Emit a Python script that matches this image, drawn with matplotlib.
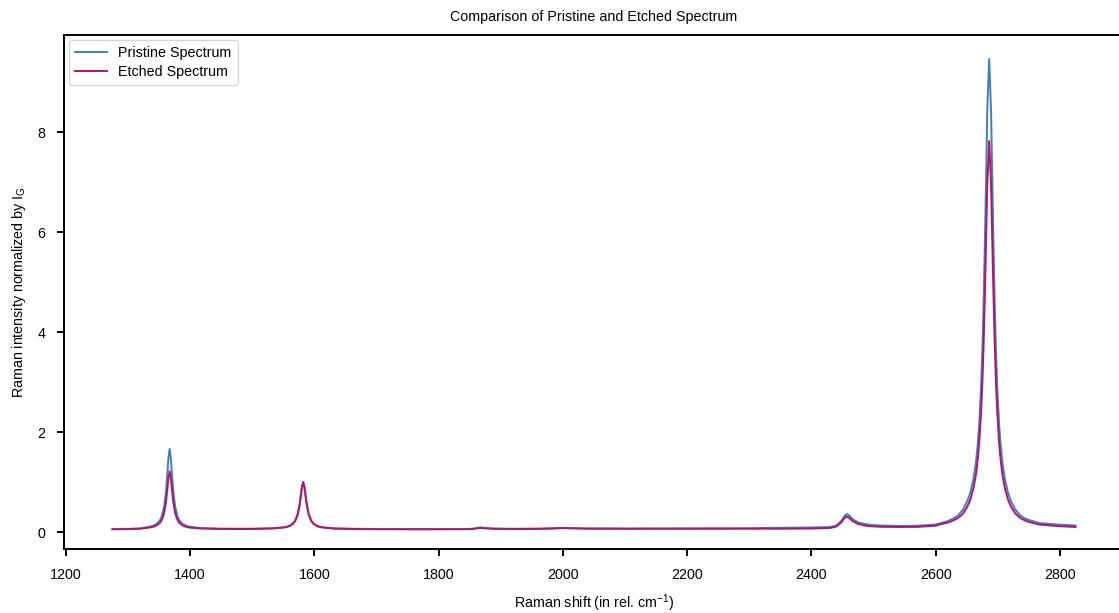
import matplotlib
matplotlib.use("Agg")
import matplotlib.pyplot as plt

plt.rcParams['font.family'] = ['Liberation Sans', 'DejaVu Sans']
plt.rcParams['mathtext.fontset'] = 'custom'
plt.rcParams['mathtext.rm'] = 'Liberation Sans'
plt.rcParams['mathtext.it'] = 'Liberation Sans'

title = "Comparison of Pristine and Etched Spectrum"
x_label = r"Raman shift (in rel. cm$^{-1}$)"
y_label = r"Raman intensity normalized by I$_\mathrm{G}$"
series_names = ["Pristine Spectrum", "Etched Spectrum"]

raman_shift = [
    1275, 1300, 1320, 1335, 1341, 1347, 1351, 1354, 1358, 1361, 1363, 1365,
    1367, 1369, 1371, 1373, 1376, 1380, 1383, 1387, 1393, 1399, 1417, 1447,
    1470, 1500, 1532, 1552, 1557, 1562, 1566, 1569, 1573, 1576, 1578, 1580,
    1582, 1584, 1586, 1588, 1591, 1595, 1598, 1602, 1607, 1612, 1632, 1662,
    1700, 1750, 1800, 1840, 1855, 1863, 1868, 1875, 1890, 1920,
    1960, 1985, 2000, 2015, 2040, 2100, 2200, 2300, 2350, 2400,
    2430, 2440, 2448, 2453, 2457, 2461, 2466, 2475, 2490, 2510,
    2540, 2570,
    2600, 2606, 2620, 2628, 2636, 2644, 2651, 2656, 2661, 2665,
    2668, 2670, 2673, 2675, 2677, 2680, 2683, 2686, 2689, 2692,
    2695, 2697, 2699, 2702, 2704, 2707, 2711, 2716, 2721, 2728,
    2736, 2744, 2750, 2766, 2795, 2825,
]

pristine = [
    0.060, 0.063, 0.072, 0.106, 0.129, 0.172, 0.229, 0.300, 0.500, 0.790, 1.110, 1.470,
    1.660, 1.470, 1.110, 0.790, 0.500, 0.300, 0.229, 0.172, 0.129, 0.106, 0.080, 0.067,
    0.066, 0.066, 0.075, 0.096, 0.111, 0.138, 0.176, 0.225, 0.350, 0.530, 0.710, 0.906,
    1.000, 0.906, 0.710, 0.530, 0.350, 0.225, 0.176, 0.138, 0.111, 0.096, 0.073, 0.065,
    0.060, 0.058, 0.058, 0.060, 0.066, 0.085, 0.090, 0.080, 0.070, 0.065,
    0.068, 0.075, 0.082, 0.078, 0.072, 0.070, 0.072, 0.075, 0.085, 0.090,
    0.100, 0.130, 0.220, 0.320, 0.360, 0.330, 0.260, 0.190, 0.150, 0.130,
    0.120, 0.125,
    0.150, 0.170, 0.220, 0.270, 0.330, 0.450, 0.620, 0.800, 1.080, 1.420,
    1.810, 2.160, 2.910, 3.600, 4.520, 6.360, 8.440, 9.460, 8.440, 6.360,
    4.520, 3.600, 2.910, 2.160, 1.810, 1.420, 1.080, 0.800, 0.620, 0.450,
    0.330, 0.270, 0.240, 0.180, 0.150, 0.130,
]

etched = [
    0.055, 0.058, 0.066, 0.090, 0.105, 0.136, 0.178, 0.231, 0.371, 0.585, 0.815, 1.075,
    1.215, 1.075, 0.815, 0.585, 0.371, 0.231, 0.178, 0.136, 0.105, 0.088, 0.070, 0.062,
    0.061, 0.061, 0.070, 0.091, 0.106, 0.133, 0.171, 0.220, 0.345, 0.525, 0.705, 0.900,
    0.995, 0.900, 0.705, 0.525, 0.345, 0.220, 0.171, 0.133, 0.106, 0.091, 0.068, 0.060,
    0.056, 0.055, 0.055, 0.056, 0.060, 0.075, 0.080, 0.072, 0.063, 0.060,
    0.062, 0.070, 0.078, 0.073, 0.066, 0.064, 0.065, 0.066, 0.065, 0.070,
    0.080, 0.110, 0.190, 0.280, 0.310, 0.280, 0.220, 0.160, 0.120, 0.105,
    0.100, 0.102,
    0.125, 0.150, 0.190, 0.230, 0.280, 0.370, 0.510, 0.660, 0.890, 1.170,
    1.500, 1.790, 2.400, 2.970, 3.730, 5.240, 6.960, 7.820, 6.960, 5.240,
    3.730, 2.970, 2.400, 1.790, 1.500, 1.170, 0.890, 0.660, 0.510, 0.370,
    0.280, 0.230, 0.200, 0.150, 0.120, 0.100,
]

x_ticks = [1200, 1400, 1600, 1800, 2000, 2200, 2400, 2600, 2800]
y_ticks = [0, 2, 4, 6, 8]

W, H = 1119, 613
fig = plt.figure(figsize=(W / 100, H / 100), dpi=100)
ax = fig.add_axes([64 / W, (H - 549) / H, (1124 - 64) / W, (549 - 35) / H])

ax.plot(raman_shift, pristine, color='#3f7fbf', lw=1.4, label=series_names[0])
ax.plot(raman_shift, etched, color='#b0156c', lw=1.4, label=series_names[1])

ax.set_xlim(1197, 2903)
ax.set_ylim(-0.34, 9.94)
ax.set_xticks(x_ticks)
ax.set_yticks(y_ticks)

fs = 10.3
for s in ax.spines.values():
    s.set_linewidth(1.4)
    s.set_color('black')
ax.tick_params(axis='both', direction='out', length=5, width=1.4,
               labelsize=fs, colors='black', pad=8.5)

ax.set_title(title, fontsize=fs, pad=10)
ax.set_xlabel(x_label, fontsize=fs, labelpad=8)
ax.set_ylabel(y_label, fontsize=fs, labelpad=7)

leg = ax.legend(loc='upper left', fontsize=fs, frameon=True, fancybox=True,
                borderaxespad=0.35, handlelength=2.2, handletextpad=0.8,
                borderpad=0.45, labelspacing=0.3)
leg.get_frame().set_edgecolor('#cccccc')
leg.get_frame().set_linewidth(1.0)

fig.savefig("out.png", dpi=100, facecolor='white')
